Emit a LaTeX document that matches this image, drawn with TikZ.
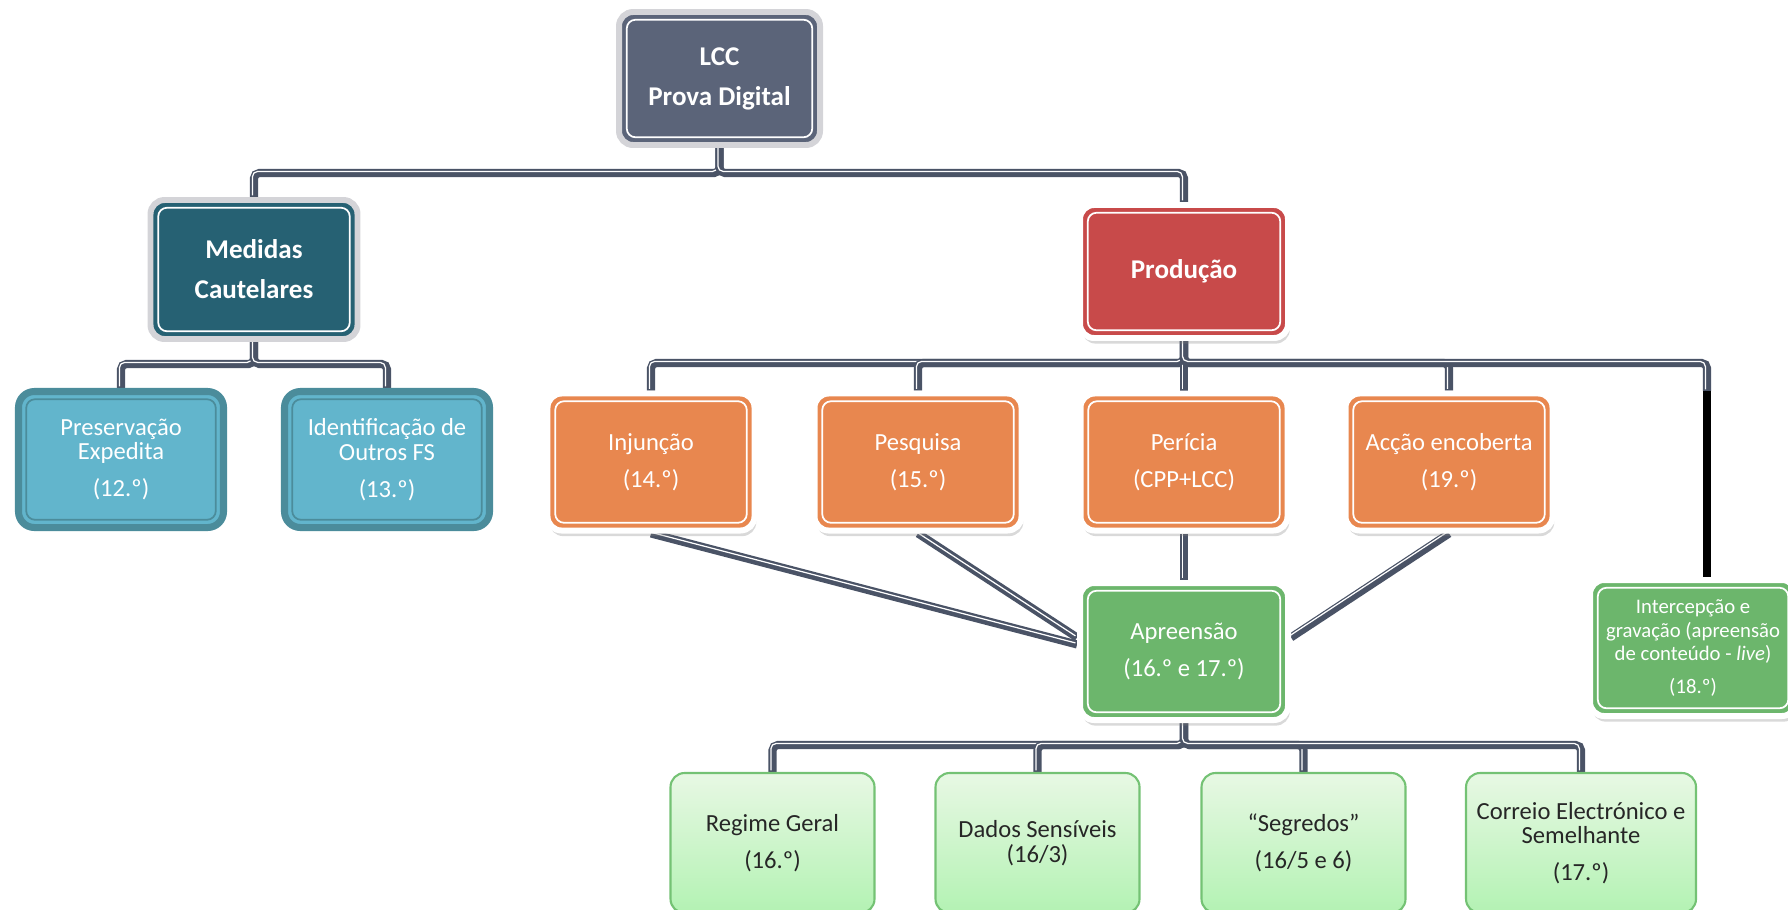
\documentclass[tikz,border=0pt]{standalone}
\usepackage{fontspec}
\setmainfont{Carlito}
\usetikzlibrary{positioning,shadows}
\pgfdeclarelayer{edgelayer}
\pgfdeclarelayer{nodelayer}
\pgfsetlayers{edgelayer,nodelayer,main}
\definecolor{slatebox}{HTML}{5B6479}
\definecolor{rimgray}{HTML}{D4D4D8}
\definecolor{tealbox}{HTML}{266173}
\definecolor{redbox}{HTML}{C84A4A}
\definecolor{orangebox}{HTML}{E8874F}
\definecolor{bluefill}{HTML}{62B5CC}
\definecolor{bluerim}{HTML}{4B8C9B}
\definecolor{greenbox}{HTML}{6CB66C}
\definecolor{leaftop}{HTML}{E8F8E4}
\definecolor{leafbot}{HTML}{B3F2B3}
\definecolor{leafrim}{HTML}{74C274}
\definecolor{linkgray}{HTML}{4A5366}
\newcommand\cardfont{\fontsize{7pt}{7pt}\selectfont}
\newcommand\headfont{\fontsize{7.7pt}{11.4pt}\selectfont\bfseries}
\newcommand\smallcard{\fontsize{5.9pt}{6.7pt}\selectfont}
\tikzset{innerline/.style={path picture={\draw[#1,line width=0.5pt,rounded corners=2.5pt]
  ([shift={(2.2pt,2.2pt)}]path picture bounding box.south west) rectangle
  ([shift={(-2.2pt,-2.2pt)}]path picture bounding box.north east);}}}
\tikzstyle{card}=[rectangle,rounded corners=4pt,align=center,inner sep=1pt,text=white,font=\cardfont,line width=1.7pt,minimum width=2.07cm,minimum height=1.37cm]
\tikzstyle{boss}=[card,draw=rimgray,innerline=white,font=\headfont]
\tikzstyle{lift}=[card,draw=white,innerline=white,drop shadow={opacity=0.3,shadow xshift=0.5pt,shadow yshift=-1.6pt}]
\tikzstyle{cool}=[card,fill=bluefill,draw=bluerim,innerline=bluerim,line width=2pt,rounded corners=4.5pt,minimum width=2.05cm,minimum height=1.36cm]
\tikzstyle{leaf}=[rectangle,rounded corners=4pt,align=center,inner sep=1pt,text=black!85,font=\cardfont,draw=leafrim,line width=0.6pt,top color=leaftop,bottom color=leafbot,minimum width=2.04cm,minimum height=1.4cm]
\tikzstyle{conn}=[draw=linkgray,line width=2.3pt,rounded corners=1.5pt,
  postaction={draw=white,line width=0.35pt,transform canvas={shift={(-0.45pt,0.45pt)}}}]
\tikzstyle{heavy}=[draw=black,line width=2.4pt]

\begin{document}
\begin{tikzpicture}
\useasboundingbox (0,0) rectangle (17.88,-9.09);
\node[boss,fill=slatebox,minimum width=2.01cm,minimum height=1.33cm] (lcc) at (7.195,-0.785) {LCC\\Prova Digital};
\node[boss,fill=tealbox,minimum height=1.39cm] (med) at (2.54,-2.695) {Medidas\\Cautelares};
\node[lift,fill=redbox,font=\headfont,minimum width=2.08cm,minimum height=1.33cm] (prod) at (11.84,-2.715) {Produção};
\node[cool] (pres) at (1.21,-4.595) {Preservação\\Expedita\\[3.5pt](12.º)};
\node[cool] (ident) at (3.87,-4.595) {Identificação de\\Outros FS\\[3.5pt](13.º)};
\node[lift,fill=orangebox] (inj) at (6.51,-4.62) {Injunção\\[3.5pt](14.º)};
\node[lift,fill=orangebox] (pes) at (9.18,-4.62) {Pesquisa\\[3.5pt](15.º)};
\node[lift,fill=orangebox] (per) at (11.84,-4.62) {Perícia\\[3.5pt](CPP+LCC)};
\node[lift,fill=orangebox] (acc) at (14.49,-4.62) {Acção encoberta\\[3.5pt](19.º)};
\node[lift,fill=greenbox,minimum width=2.08cm] (apr) at (11.84,-6.515) {Apreensão\\[3.3pt](16.º e 17.º)};
\node[lift,fill=greenbox,font=\smallcard,minimum width=2.06cm,minimum height=1.36cm] (intc) at (16.93,-6.48) {Intercepção e\\gravação (apreensão\\de conteúdo - \textit{live})\\[2.5pt](18.º)};
\node[leaf] (reg) at (7.725,-8.43) {Regime Geral\\[3.5pt](16.º)};
\node[leaf] (sens) at (10.375,-8.43) {Dados Sensíveis\\(16/3)};
\node[leaf] (seg) at (13.035,-8.43) {“Segredos”\\[3.5pt](16/5 e 6)};
\node[leaf,minimum width=2.3cm] (mail) at (15.81,-8.43) {Correio Electrónico e\\Semelhante\\[3.5pt](17.º)};

\begin{pgfonlayer}{edgelayer}
\coordinate (busL) at (7.195,-1.73);
\coordinate (busM) at (2.54,-3.64);
\coordinate (busP) at (11.84,-3.63);
\coordinate (busA) at (11.84,-7.45);
\coordinate (kink) at (17.07,-3.91);
% top level
\draw[conn] (lcc.south) -- (busL) -| (med.north);
\draw[conn] (lcc.south) -- (busL) -| (prod.north);
% medidas cautelares
\draw[conn] (med.south) -- (busM) -| (pres.north);
\draw[conn] (med.south) -- (busM) -| (ident.north);
% producao
\draw[conn] (prod.south) -- (busP) -| (inj.north);
\draw[conn] (prod.south) -- (busP) -| (pes.north);
\draw[conn] (prod.south) -- (busP) -| (per.north);
\draw[conn] (prod.south) -- (busP) -| (acc.north);
\draw[conn] (prod.south) -- (busP) -| (kink);
\draw[heavy] (kink) -- (kink |- intc.north);
% apreensao
\draw[conn] (per.south) -- (apr.north);
\draw[conn] (inj.south) -- ([yshift=2pt]apr.west);
\draw[conn] (pes.south) -- ([yshift=4pt]apr.west);
\draw[conn] (acc.south) -- ([yshift=4pt]apr.east);
\draw[conn] (apr.south) -- (busA) -| (reg.north);
\draw[conn] (apr.south) -- (busA) -| (sens.north);
\draw[conn] (apr.south) -- (busA) -| (seg.north);
\draw[conn] (apr.south) -- (busA) -| (mail.north);
\end{pgfonlayer}
\end{tikzpicture}
\end{document}
